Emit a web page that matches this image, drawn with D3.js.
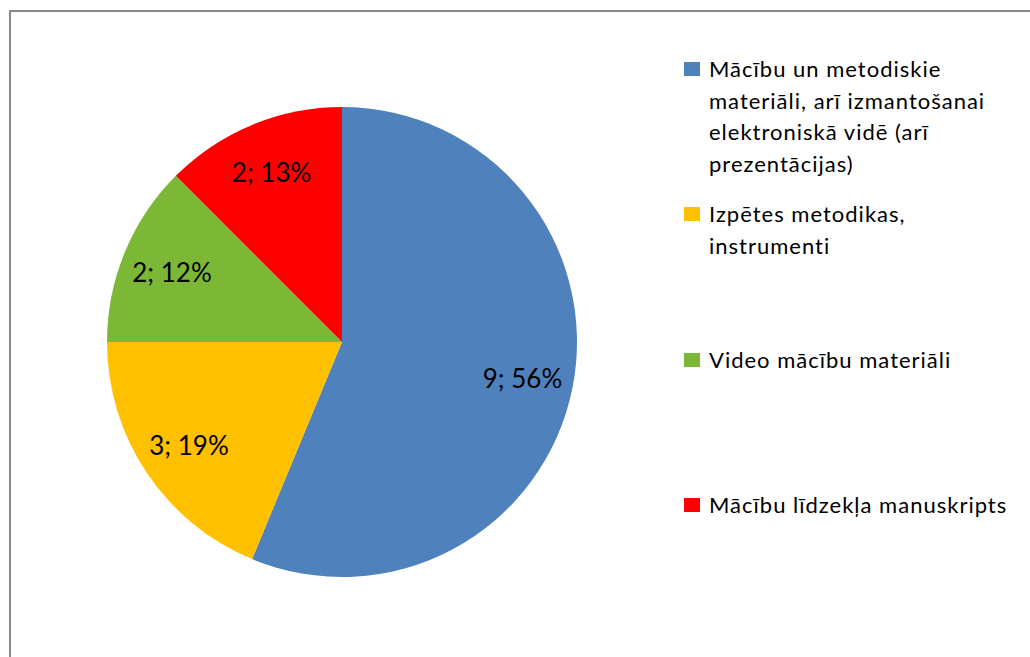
<!DOCTYPE html>
<html>
<head>
<meta charset="utf-8">
<script src="https://cdn.jsdelivr.net/npm/d3@7"></script>
<style>
  html, body { margin: 0; padding: 0; background: #fff; }
  svg { display: block; }
  text { font-family: "Lato", "Open Sans", sans-serif; fill: #000; }
</style>
</head>
<body>
<svg id="chart" width="1030" height="657"></svg>
<script>
const categories = [
  "Mācību un metodiskie materiāli, arī izmantošanai elektroniskā vidē (arī prezentācijas)",
  "Izpētes metodikas, instrumenti",
  "Video mācību materiāli",
  "Mācību līdzekļa manuskripts"
];
const legendLines = [
  ["Mācību un metodiskie", "materiāli, arī izmantošanai", "elektroniskā vidē (arī", "prezentācijas)"],
  ["Izpētes metodikas,", "instrumenti"],
  ["Video mācību materiāli"],
  ["Mācību līdzekļa manuskripts"]
];
const values = [9, 3, 2, 2];
const percentLabels = ["56%", "19%", "12%", "13%"];
const colors = ["#4F81BD", "#FFC000", "#7CB735", "#FF0000"];

const svg = d3.select("#chart");

// chart frame
svg.append("rect")
  .attr("x", 10).attr("y", 11)
  .attr("width", 1040).attr("height", 700)
  .attr("fill", "#fff")
  .attr("stroke", "#898989")
  .attr("stroke-width", 2);

const cx = 342, cy = 342, r = 235;
const pie = d3.pie().sort(null).value(d => d);
const arcs = pie(values);
const arc = d3.arc().innerRadius(0).outerRadius(r);
const labelArc = d3.arc().innerRadius(184).outerRadius(184);

const g = svg.append("g").attr("transform", `translate(${cx},${cy})`);
g.selectAll("path.slice")
  .data(arcs)
  .enter().append("path")
  .attr("class", "slice")
  .attr("d", arc)
  .attr("fill", (d, i) => colors[i]);

g.selectAll("text.lbl")
  .data(arcs)
  .enter().append("text")
  .attr("class", "lbl")
  .attr("transform", d => `translate(${labelArc.centroid(d)})`)
  .attr("text-anchor", "middle")
  .attr("dy", "0.4em")
  .style("font-size", "26px")
  .text((d, i) => `${values[i]}; ${percentLabels[i]}`);

// legend
const legendTops = [77, 222, 368, 513];
const lineH = 31.5;
const lg = svg.append("g");
legendLines.forEach((lines, i) => {
  const base = legendTops[i];
  lg.append("rect")
    .attr("x", 684).attr("y", base - 15)
    .attr("width", 16).attr("height", 14)
    .attr("fill", colors[i]);
  const t = lg.append("text")
    .attr("x", 709).attr("y", base)
    .style("font-size", "22px")
    .style("letter-spacing", "1px");
  lines.forEach((ln, j) => {
    t.append("tspan").attr("x", 709).attr("y", base + j * lineH).text(ln);
  });
});
</script>
</body>
</html>
